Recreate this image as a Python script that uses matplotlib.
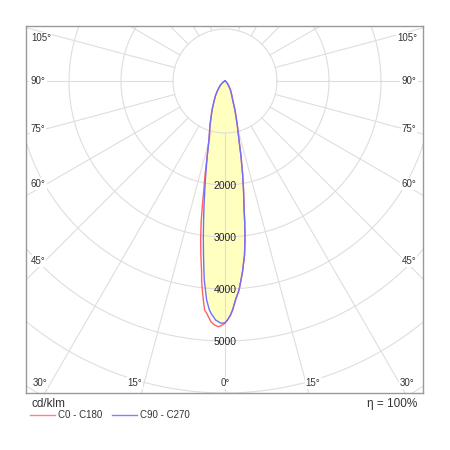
import numpy as np
import matplotlib
matplotlib.use("Agg")
import matplotlib.pyplot as plt
from matplotlib.lines import Line2D

plt.rcParams['font.family'] = ['Liberation Sans', 'DejaVu Sans']

# gamma angle from nadir (deg) and luminous intensity (cd/klm)
# right half (C0 and C90 practically coincide)
gamma_r = [0, 0.6, 1.35, 1.9, 2.75, 3.85, 4.6, 5.25, 6.4, 7.25, 7.95, 8.6, 9.65, 10.65,
           12.1, 13.35, 15.6, 19.0, 22.1, 25.6, 31.4, 39.5, 55, 90]
c0 = [4650, 4596, 4501, 4406, 4216, 4028, 3839, 3683, 3367, 3050, 2738, 2445, 2126, 1839,
      1456, 1166, 878, 590, 394, 298, 203, 100, 30, 0]
c90 = [4650, 4596, 4501, 4406, 4216, 4028, 3839, 3683, 3367, 3050, 2738, 2445, 2126, 1839,
       1456, 1166, 878, 590, 394, 298, 203, 100, 30, 0]
# left half, C270 (blue)
gamma_c270 = [0, 0.95, 2.25, 3.45, 3.9, 4.8, 5.35, 5.95, 6.3, 7.05, 7.85, 8.65, 9.5, 10.5,
              11.6, 13.45, 15.2, 18.8, 24.1, 29.4, 33.6, 38.7, 48.4, 65, 90]
c270 = [4650, 4660, 4600, 4475, 4414, 4226, 4037, 3847, 3689, 3371, 3054, 2743, 2451, 2132,
        1845, 1463, 1175, 894, 611, 419, 323, 222, 116, 30, 0]
# left half, C180 (red)
gamma_c180 = [0, 0.8, 1.55, 2.45, 3.35, 4.5, 5.1, 5.65, 6.2, 6.7, 7.0, 7.9, 8.8, 9.6, 10.25,
              11.0, 12.0, 13.45, 15.2, 18.8, 24.1, 29.4, 33.6, 38.7, 48.4, 65, 90]
c180 = [4660, 4702, 4727, 4697, 4637, 4481, 4421, 4232, 4042, 3853, 3694, 3378, 3061, 2750, 2456,
        2135, 1848, 1463, 1175, 894, 611, 419, 323, 222, 116, 30, 0]

rings = [1000, 2000, 3000, 4000, 5000, 6000, 7000, 8000]
ring_labels = [2000, 3000, 4000, 5000]
spokes = list(range(15, 180, 15))
angle_labels = ['0°', '15°', '30°', '45°', '60°', '75°', '90°', '105°']

S = 1000 / 52.0  # cd/klm per pixel


def curve(g_left, left, g_right, right):
    gl = np.radians(g_left)
    gr = np.radians(g_right)
    L = np.array(left, dtype=float)
    R = np.array(right, dtype=float)
    xl, yl = -L * np.sin(gl), -L * np.cos(gl)
    xr, yr = R * np.sin(gr), -R * np.cos(gr)
    return np.concatenate([xl[::-1], xr]), np.concatenate([yl[::-1], yr])


fig = plt.figure(figsize=(4.5, 4.5), dpi=100)
ax = fig.add_axes([26 / 450, 57 / 450, 397 / 450, 367 / 450])
ax.set_xlim(-199 * S, 198 * S)
ax.set_ylim(-312 * S, 55 * S)
ax.set_xticks([])
ax.set_yticks([])
for s in ax.spines.values():
    s.set_color('#999999')
    s.set_linewidth(1)

grid_c = '#dedede'
t = np.linspace(0, 2 * np.pi, 400)
for r in rings:
    ax.plot(r * np.cos(t), r * np.sin(t), color=grid_c, lw=0.8, zorder=2)
ax.plot([0, 0], [-1000, -20000], color=grid_c, lw=0.8, zorder=2)
for a in spokes:
    ar = np.radians(a)
    for sgn in (-1, 1):
        ax.plot([sgn * 1000 * np.sin(ar), sgn * 20000 * np.sin(ar)],
                [-1000 * np.cos(ar), -20000 * np.cos(ar)],
                color=grid_c, lw=0.8, zorder=2)

xb, yb = curve(gamma_c270, c270, gamma_r, c90)
xr, yr = curve(gamma_c180, c180, gamma_r, c0)
ax.fill(xb, yb, color='#ffffc0', zorder=1, lw=0)
ax.plot(xr, yr, color='#ff6060', lw=1, zorder=3)
ax.plot(xb, yb, color='#7070ff', lw=1, zorder=4)

for v in ring_labels:
    ax.text(0, -v - 1 * S, str(v), ha='center', va='center', fontsize=7.5,
            color='#222222', zorder=5)

# angle label anchors, pixels from the pole (x right, y down)
left_pos = [(0, 302), (-90, 302), (-185, 302), (-187, 180), (-187, 103),
            (-187, 48), (-187, 0), (-184, -43)]
right_pos = [(88, 302), (182, 302), (184, 180), (184, 103), (184, 48),
             (184, 0), (182, -43)]
lbl_box = dict(facecolor='white', edgecolor='none', pad=0.8)
for lab, (dx, dy) in zip(angle_labels, left_pos):
    ax.text(dx * S, -dy * S, lab, ha='center', va='center', fontsize=7,
            color='#333333', bbox=lbl_box, zorder=6)
for lab, (dx, dy) in zip(angle_labels[1:], right_pos):
    ax.text(dx * S, -dy * S, lab, ha='center', va='center', fontsize=7,
            color='#333333', bbox=lbl_box, zorder=6)

fig.text(32 / 450, 1 - 404 / 450, 'cd/klm', ha='left', va='center', fontsize=8.5, color='#333333')
fig.text(417 / 450, 1 - 404 / 450, 'η = 100%', ha='right', va='center', fontsize=8.5, color='#333333')
ly = 1 - 415 / 450
fig.add_artist(Line2D([30 / 450, 55 / 450], [ly, ly], color='#ff8080', lw=1))
fig.text(58 / 450, ly, 'C0 - C180', ha='left', va='center', fontsize=7, color='#333333')
fig.add_artist(Line2D([112 / 450, 137 / 450], [ly, ly], color='#8080ff', lw=1))
fig.text(140 / 450, ly, 'C90 - C270', ha='left', va='center', fontsize=7, color='#333333')

fig.savefig('out.png', dpi=100)
